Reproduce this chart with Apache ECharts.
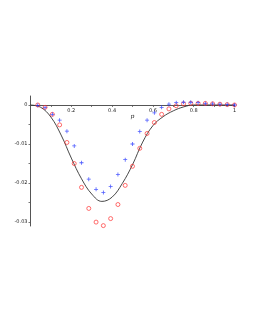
<!DOCTYPE html>
<html>
<head>
<meta charset="utf-8">
<script src="https://cdn.jsdelivr.net/npm/echarts@6/dist/echarts.min.js"></script>
<style>html,body{margin:0;padding:0;background:#fff}#c{width:253px;height:327px}</style>
</head>
<body>
<div id="c"></div>
<script>
// p values for the curve
const curveP = [0,0.05,0.1,0.15,0.2,0.25,0.3,0.35,0.4,0.45,0.5,0.55,0.6,0.65,0.7,0.75,0.8,0.85,0.9,0.95,1];
const curveY = [0,-0.0006,-0.0031,-0.0077,-0.0136,-0.0189,-0.0228,-0.0247,-0.0236,-0.0201,-0.0153,-0.0095,-0.0053,-0.003,-0.0015,-0.0005,0,0,0,0,0];
// sample points p_k = k/28
const pointP = [0.0357,0.0714,0.1071,0.1429,0.1786,0.2143,0.25,0.2857,0.3214,0.3571,0.3929,0.4286,0.4643,0.5,0.5357,0.5714,0.6071,0.6429,0.6786,0.7143,0.75,0.7857,0.8214,0.8571,0.8929,0.9286,0.9643,1];
const redY = [0,-0.0006,-0.0024,-0.0051,-0.0096,-0.015,-0.0211,-0.0265,-0.030,-0.0309,-0.0291,-0.0255,-0.0206,-0.0157,-0.0111,-0.0073,-0.0045,-0.0024,-0.001,-0.0002,0.0003,0.0004,0.0004,0.0004,0.0003,0.0002,0.0001,0];
const blueY = [-0.0001,-0.0007,-0.0024,-0.0039,-0.0067,-0.0105,-0.0148,-0.019,-0.0216,-0.0224,-0.0209,-0.0178,-0.014,-0.010,-0.0068,-0.0039,-0.002,-0.0006,0.0002,0.0006,0.0007,0.0007,0.0006,0.0004,0.0003,0.0002,0.0001,0];
const xTickLabels = [0.2,0.4,0.6,0.8,1];
const yTickLabels = [0,-0.01,-0.02,-0.03];
const xName = 'p';

const zip = (a,b)=>a.map((v,i)=>[v,b[i]]);
const chart = echarts.init(document.getElementById('c'));
const fontFam = 'DejaVu Sans';
const yMin = -0.031, yMax = 0.0023, gTop = 96, gBottom = 101;
const plotH = 327 - gTop - gBottom;
const zeroOffset = -plotH * yMax / (yMax - yMin);
chart.setOption({
  animation:false,
  backgroundColor:'#fff',
  grid:{left:30.5,right:18.5,top:gTop,bottom:gBottom},
  xAxis:{
    type:'value',min:0,max:1,position:'top',offset:zeroOffset,
    axisLine:{onZero:false,lineStyle:{color:'#555',width:1}},
    axisTick:{show:true,length:2,inside:true,customValues:[0.1,0.2,0.3,0.4,0.5,0.6,0.7,0.8,0.9,1],lineStyle:{color:'#555',width:0.8}},
    axisLabel:{customValues:xTickLabels,inside:true,fontSize:5,color:'#222',fontFamily:fontFam,margin:3,formatter:v=>String(v)},
    splitLine:{show:false}
  },
  yAxis:{
    type:'value',min:yMin,max:yMax,
    axisLine:{show:true,onZero:false,lineStyle:{color:'#555',width:1}},
    axisTick:{show:true,length:2,customValues:[0,-0.005,-0.01,-0.015,-0.02,-0.025,-0.03],lineStyle:{color:'#555',width:0.8}},
    axisLabel:{customValues:yTickLabels,fontSize:5,color:'#222',fontFamily:fontFam,margin:3,formatter:v=>String(v)},
    splitLine:{show:false}
  },
  series:[
    {type:'line',data:zip(curveP,curveY),smooth:0.4,showSymbol:false,lineStyle:{color:'#333',width:0.9},z:2},
    {type:'scatter',data:zip(pointP,redY),symbol:'circle',symbolSize:4,itemStyle:{color:'rgba(255,255,255,0)',borderColor:'#ff3333',borderWidth:0.9},z:3},
    {type:'scatter',data:zip(pointP,blueY),symbol:'path://M0,1.6H1.6V0H2.4V1.6H4V2.4H2.4V4H1.6V2.4H0Z',symbolSize:4,itemStyle:{color:'#2233ff'},z:4}
  ]
});
const namePos = chart.convertToPixel({gridIndex:0},[0.5,0]);
chart.setOption({
  graphic:[{type:'text',x:namePos[0],y:namePos[1]+11,style:{text:xName,fontSize:6,fill:'#222',fontFamily:'DejaVu Serif',fontStyle:'italic',align:'center',verticalAlign:'middle'}}]
});
</script>
</body>
</html>
